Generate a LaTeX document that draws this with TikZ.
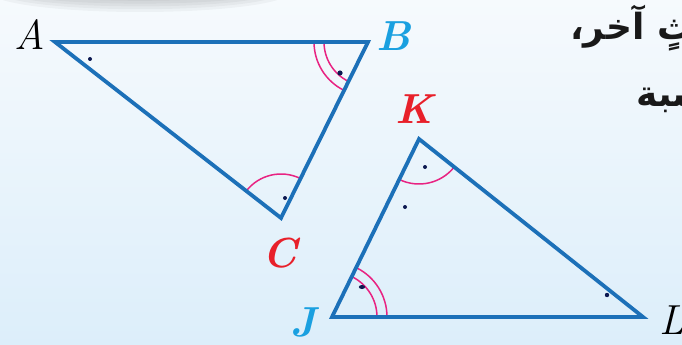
\documentclass[tikz,border=0pt]{standalone}
\usepackage{fontspec}
\newfontfamily\arabicfont[Script=Arabic]{DejaVu Sans}
\TeXXeTstate=1
\usetikzlibrary{angles}
\definecolor{triblue}{RGB}{28,112,184}
\definecolor{arcpink}{RGB}{232,35,130}
\definecolor{lblred}{RGB}{232,32,42}
\definecolor{lblcyan}{RGB}{26,160,224}
\definecolor{dotnavy}{RGB}{12,24,80}
\definecolor{bgtop}{RGB}{246,250,253}
\definecolor{bgbot}{RGB}{220,238,250}
\begin{document}
\begin{tikzpicture}[x=1pt,y=-1pt,
  side/.style={draw=triblue,line width=3.8pt,line join=miter,line cap=round},
  arcmark/.style={draw=arcpink,line width=1.5pt},
  vlab/.style={inner sep=0pt,font=\fontsize{42}{42}\selectfont\itshape},
  blab/.style={inner sep=0pt,font=\fontsize{42}{42}\selectfont\bfseries\itshape},
  pen/.style={fill=dotnavy},
  arab/.style={inner sep=0pt,anchor=west,text=black!90,font=\fontsize{36}{36}\selectfont\arabicfont\bfseries}]
% background
\shade[top color=bgtop,bottom color=bgbot] (0,0) rectangle (682,345);
\useasboundingbox (0,0) rectangle (682,345);
\begin{scope}
\clip (0,0) rectangle (682,345);
% top shadow
\foreach \r in {0,...,5}{
  \fill[black,opacity=0.035] (140,-8) ellipse ({150-9*\r} and {20-2.8*\r});
}
% Arabic text (cut by the edge)
\node[arab] (t1) at (570,28) {\beginR مثلثٍ آخر،\endR};
\node[arab] (t2) at (636,96) {\beginR متناسبة\endR};
\end{scope}
% vertices
\coordinate (A) at (55,42);
\coordinate (B) at (368,42);
\coordinate (C) at (281,218);
\coordinate (K) at (419,139);
\coordinate (J) at (332,317);
\coordinate (L) at (643,317);
% angle marks
\pic[arcmark,angle radius=44pt] {angle = B--C--A};
\pic[arcmark,angle radius=45pt] {angle = J--K--L};
\pic[arcmark,angle radius=44pt] {angle = A--B--C};
\pic[arcmark,angle radius=54pt] {angle = A--B--C};
\pic[arcmark,angle radius=45pt] {angle = L--J--K};
\pic[arcmark,angle radius=55pt] {angle = L--J--K};
% triangles
\draw[side] (A) -- (B) -- (C) -- cycle;
\draw[side] (K) -- (L) -- (J) -- cycle;
% labels
\node[vlab] (lA) at (30,35) {A};
\node[blab,text=lblcyan] (lB) at (394,36) {B};
\node[blab,text=lblred] (lC) at (280,253) {C};
\node[blab,text=lblred] (lK) at (414,109) {K};
\node[blab,text=lblcyan] (lJ) at (303,322) {J};
\node[vlab] (lL) at (672,320) {L};
% pen dots
\fill[pen] (90,59) circle (2pt);
\fill[pen] (340,73) circle (2.6pt);
\fill[pen] (285,198) circle (2pt);
\fill[pen] (425,167) circle (2pt);
\fill[pen] (405,207) circle (2pt);
\fill[pen] (362,287) ellipse (3.2pt and 2pt);
\fill[pen] (607,295) circle (2.2pt);
\end{tikzpicture}
\end{document}
